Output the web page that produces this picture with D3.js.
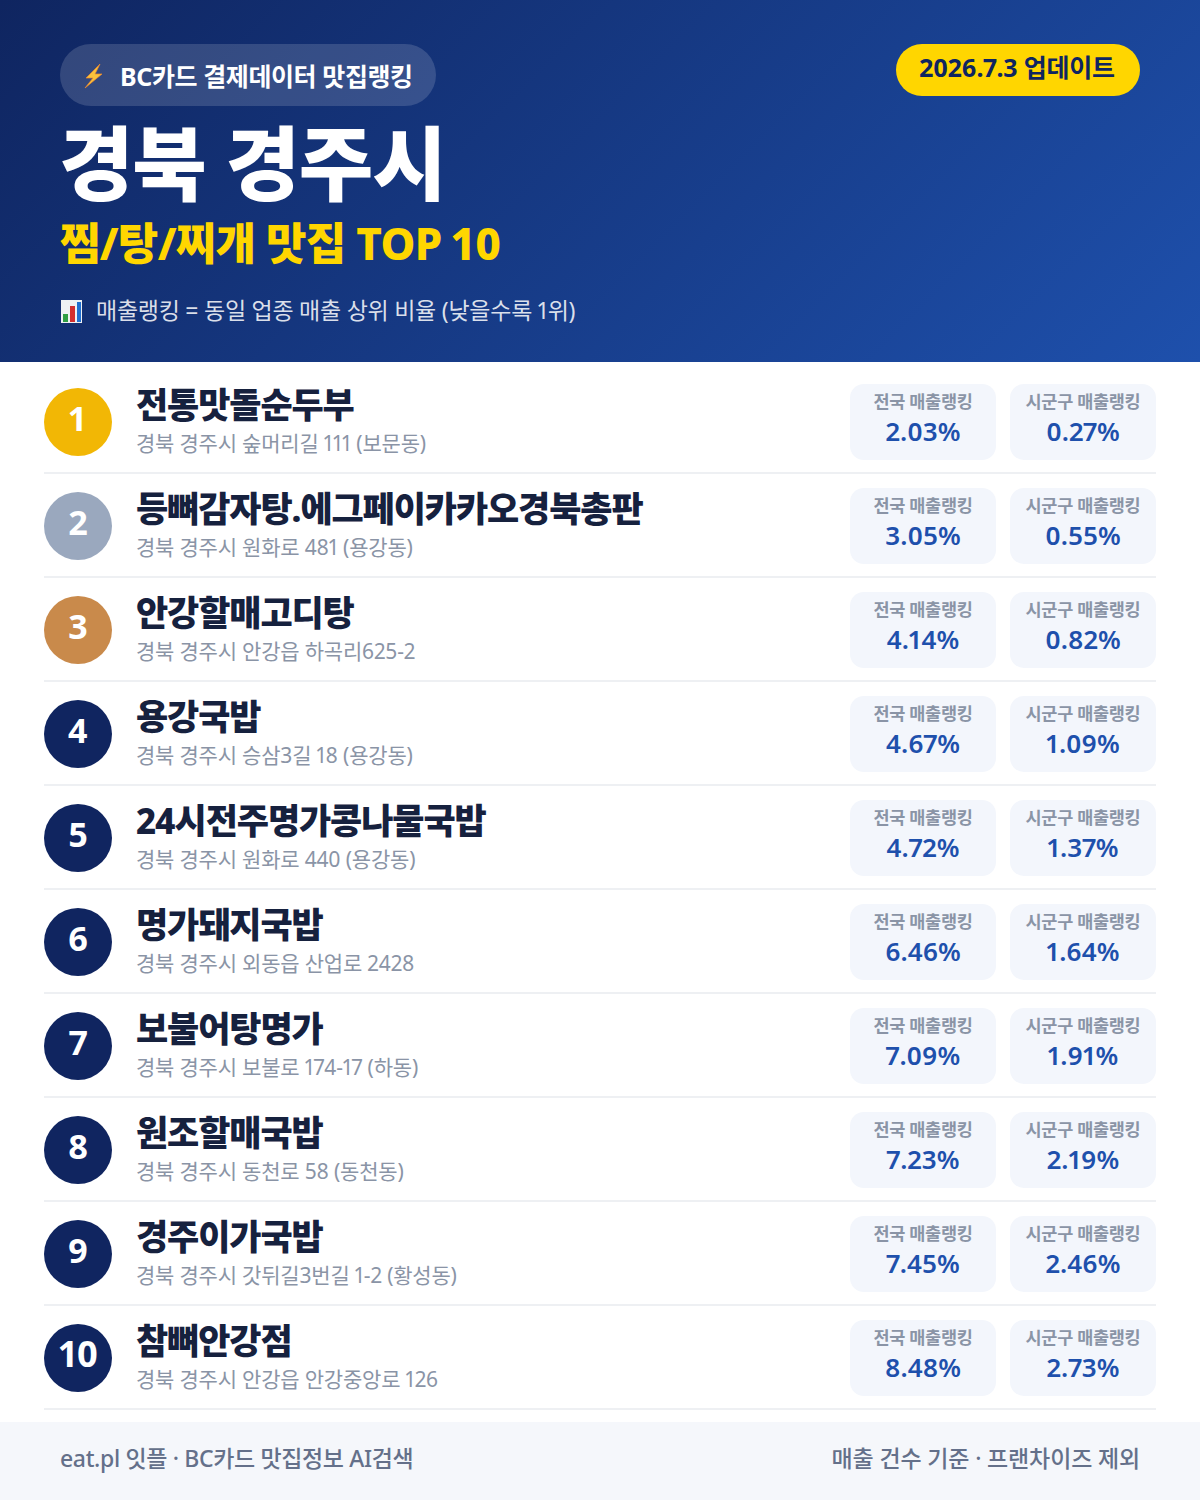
<!DOCTYPE html>
<html lang="ko"><head><meta charset="utf-8">
<script src="https://cdn.jsdelivr.net/npm/d3@7"></script>
<style>html,body{margin:0;padding:0;background:#fff}svg{display:block}text{font-family:"Noto Sans","Noto Sans CJK KR",sans-serif;font-variant-numeric:proportional-nums}</style>
</head><body><div id="c"></div>
<script>
const ranks=[1,2,3,4,5,6,7,8,9,10];
const names=["전통맛돌순두부","등뼈감자탕.에그페이카카오경북총판","안강할매고디탕","용강국밥","24시전주명가콩나물국밥","명가돼지국밥","보불어탕명가","원조할매국밥","경주이가국밥","참뼈안강점"];
const addresses=["경북 경주시 숲머리길 111 (보문동)","경북 경주시 원화로 481 (용강동)","경북 경주시 안강읍 하곡리625-2","경북 경주시 승삼3길 18 (용강동)","경북 경주시 원화로 440 (용강동)","경북 경주시 외동읍 산업로 2428","경북 경주시 보불로 174-17 (하동)","경북 경주시 동천로 58 (동천동)","경북 경주시 갓뒤길3번길 1-2 (황성동)","경북 경주시 안강읍 안강중앙로 126"];
const nationalPct=[2.03,3.05,4.14,4.67,4.72,6.46,7.09,7.23,7.45,8.48];
const localPct=[0.27,0.55,0.82,1.09,1.37,1.64,1.91,2.19,2.46,2.73];
const rankColors=["#f2b705","#9aa8be","#c98a4b","#102560"];
const W=1200,H=1500;
const y=d3.scaleBand().domain(ranks).range([370,1410]);
const svg=d3.select("#c").append("svg").attr("width",W).attr("height",H).attr("viewBox",[0,0,W,H]);
const defs=svg.append("defs");
const lg=defs.append("linearGradient").attr("id","hd2").attr("gradientUnits","userSpaceOnUse").attr("x1",210).attr("y1",-209).attr("x2",990).attr("y2",571);
lg.selectAll("stop").data([[0,"#0f2560"],[1,"#1e50ac"]]).join("stop").attr("offset",d=>d[0]).attr("stop-color",d=>d[1]);
svg.append("rect").attr("width",W).attr("height",362).attr("fill","url(#hd2)");
svg.append("rect").attr("x",60).attr("y",44).attr("width",376).attr("height",62).attr("rx",31).attr("fill","#fff").attr("fill-opacity",.15);
const T=(x,yy,s,size,w,fill,anchor,ls)=>svg.append("text").attr("x",x).attr("y",yy).attr("font-size",size).attr("font-weight",w).attr("fill",fill).attr("text-anchor",anchor||"start").attr("letter-spacing",ls||0).text(s);
svg.append("path").attr("d","M100 64 L86 78 L93 78 L85 88 L102 74 L95 74 L100 64 Z").attr("fill","#f9c23c").attr("stroke","#f0862a").attr("stroke-width",.7);
T(120,86,"BC카드 결제데이터 맛집랭킹",25,700,"#fff","start",-.4);
T(59,194,"경북 경주시",81,800,"#fff","start",-1.2);
T(60,260,"찜/탕/찌개 맛집 TOP 10",44,800,"#ffd600","start",-.7);
svg.append("rect").attr("x",61).attr("y",300).attr("width",21).attr("height",23).attr("fill","#eef1f4");
[[63,314,5,"#2f9e44"],[70,306,5,"#d32f2f"],[77,302,4,"#1f6fd0"]].forEach(d=>svg.append("rect").attr("x",d[0]).attr("y",d[1]).attr("width",d[2]).attr("height",322-d[1]).attr("fill",d[3]));
T(96,319,"매출랭킹 = 동일 업종 매출 상위 비율 (낮을수록 1위)",23,400,"#fff","start",-.25).attr("fill-opacity",.85);
svg.append("rect").attr("x",896).attr("y",44).attr("width",244).attr("height",52).attr("rx",26).attr("fill","#ffd600");
T(1017,77,"2026.7.3 업데이트",25,700,"#0f2560","middle",-.2);
const rows=svg.append("g").selectAll("g").data(ranks).join("g").attr("transform",d=>`translate(0,${y(d)})`);
rows.append("rect").attr("x",44).attr("y",y.bandwidth()-2).attr("width",1112).attr("height",2).attr("fill","#eef0f3");
rows.append("circle").attr("cx",78).attr("cy",52).attr("r",34).attr("fill",d=>rankColors[Math.min(d-1,3)]);
rows.append("text").attr("x",78).attr("y",61).attr("text-anchor","middle").attr("font-size",d=>d==10?36:34).attr("font-weight",700).attr("fill","#fff").attr("letter-spacing",d=>d==10?-1.5:0).text(d=>d);
rows.append("text").attr("x",136).attr("y",48).attr("font-size",35).attr("font-weight",800).attr("fill","#16213e").attr("letter-spacing",-1.1).text((d,i)=>names[i]);
rows.append("text").attr("x",136).attr("y",81).attr("font-size",21).attr("font-weight",400).attr("fill","#8a94a6").attr("letter-spacing",-.2).text((d,i)=>addresses[i]);
const boxes=[{x:850,lab:"전국 매출랭킹",v:nationalPct},{x:1010,lab:"시군구 매출랭킹",v:localPct}];
boxes.forEach(b=>{
 rows.append("rect").attr("x",b.x).attr("y",14).attr("width",146).attr("height",76).attr("rx",14).attr("fill","#f3f6fc");
 rows.append("text").attr("x",b.x+73).attr("y",38).attr("text-anchor","middle").attr("font-size",17.5).attr("font-weight",700).attr("fill","#8a94a6").attr("letter-spacing",-.3).text(b.lab);
 rows.append("text").attr("x",b.x+73).attr("y",70.5).attr("text-anchor","middle").attr("font-size",26).attr("font-weight",600).attr("fill","#1e50ac").text((d,i)=>b.v[i].toFixed(2)+"%");
});
svg.append("rect").attr("y",1422).attr("width",W).attr("height",78).attr("fill","#f5f7fb");
T(60,1467,"eat.pl 잇플 · BC카드 맛집정보 AI검색",23,500,"#64708a","start",-.35);
T(1140,1467,"매출 건수 기준 · 프랜차이즈 제외",23,500,"#64708a","end",-.15);
</script></body></html>
